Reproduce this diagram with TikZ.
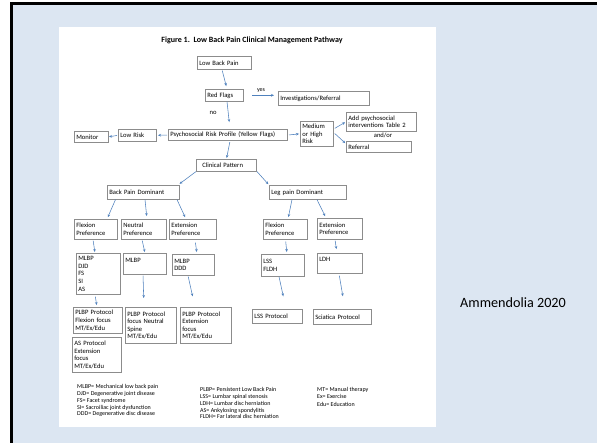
\documentclass[tikz,border=0pt]{standalone}
\usepackage{fontspec}
\setmainfont{Carlito}
\usetikzlibrary{arrows.meta}

\definecolor{slideblue}{HTML}{DCE6F2}
\definecolor{linkblue}{HTML}{4F81BD}
\definecolor{boxgray}{HTML}{8C8C8C}

\newcommand{\boxfont}{\fontsize{6.6}{7.6}\selectfont}
\newcommand{\keyfont}{\fontsize{6}{6.9}\selectfont}

\tikzset{
  box/.style={draw=boxgray, line width=0.6pt, fill=white, anchor=north west,
              align=left, inner sep=2pt, font=\boxfont},
  flow/.style={draw=linkblue, line width=0.55pt, -{Stealth[length=3pt,width=2.6pt]}},
  key/.style={anchor=north west, align=left, inner sep=0pt, font=\keyfont}
}

\begin{document}
\begin{tikzpicture}[x=1pt, y=-1pt]
\useasboundingbox (0,0) rectangle (597,443);
% slide and the pasted figure
\fill[slideblue] (13,5) rectangle (597,443);
\draw[line width=3pt] (11.5,443) -- (11.5,3.5) -- (597,3.5);
\fill[white] (59,27) rectangle (436,427);

\node[font=\fontsize{8}{9}\selectfont\bfseries] (title) at (252,40)
     {Figure 1.\ \ Low Back Pain Clinical Management Pathway};

% top of the pathway
\node[box, text width=50.4, minimum height=13] (lbp) at (197,56) {Low Back Pain};
\node[box, text width=34.4, minimum height=12] (rf) at (205,89) {Red Flags};
\node[box, text width=87.4, minimum height=14] (inv) at (278,91) {Investigations/Referral};
\node[box, text width=115.4, minimum height=11.5] (psy) at (168,129) {Psychosocial Risk Profile (Yellow Flags)};
\node[box, text width=34.4, minimum height=12] (low) at (118,129) {Low Risk};
\node[box, text width=30.4, minimum height=11] (mon) at (74,131) {Monitor};
\node[box, text width=29.4, minimum height=25] (med) at (300,121) {Medium\\or High\\Risk};
\node[box, text width=66.4, minimum height=19] (add) at (346,112) {Add psychosocial\\interventions Table 2};
\node[font=\boxfont] (andor) at (383,135) {and/or};
\node[box, text width=61.4, minimum height=11] (ref) at (346,141) {Referral};
\node[box, text width=56.4, minimum height=12] (cp) at (196,159) {\hspace{4pt}Clinical Pattern};

% back pain branch
\node[box, text width=68.4, minimum height=14] (bpd) at (107,185) {Back Pain Dominant};
\node[box, text width=39.4, minimum height=20] (flexb) at (74,219) {Flexion\\Preference};
\node[box, text width=41.4, minimum height=20] (neut) at (121,219) {Neutral\\Preference};
\node[box, text width=43.4, minimum height=20] (extb) at (169,219) {Extension\\Preference};
\node[box, text width=40.4, minimum height=41] (dxflex) at (76,253) {MLBP\\DJD\\FS\\SI\\AS};
\node[box, text width=39.4, minimum height=21] (dxneut) at (123,253) {MLBP\\~};
\node[box, text width=38.4, minimum height=21] (dxext) at (172,254) {MLBP\\DDD};
\node[box, text width=45.4, minimum height=26] (pflex) at (73,307) {PLBP Protocol\\Flexion focus\\MT/Ex/Edu};
\node[box, text width=47.4, minimum height=36] (pneut) at (125,307) {PLBP Protocol\\focus Neutral\\Spine\\MT/Ex/Edu};
\node[box, text width=47.4, minimum height=36] (pext) at (180,307) {PLBP Protocol\\Extension\\focus\\MT/Ex/Edu};
\node[box, text width=45.4, minimum height=35] (pas) at (72,337) {AS Protocol\\Extension\\focus\\MT/Ex/Edu};

% leg pain branch
\node[box, text width=73.4, minimum height=14] (lpd) at (269,185) {Leg pain Dominant};
\node[box, text width=40.4, minimum height=20] (flexl) at (263,219) {Flexion\\Preference};
\node[box, text width=41.4, minimum height=21] (extl) at (317,218) {Extension\\Preference};
\node[box, text width=39.4, minimum height=22] (dxleg) at (261,254) {LSS\\FLDH};
\node[box, text width=41.4, minimum height=20] (ldh) at (317,253) {LDH\\~};
\node[box, text width=46.4, minimum height=14] (plss) at (252,309) {LSS Protocol};
\node[box, text width=54.4, minimum height=15] (psci) at (313,309) {Sciatica Protocol};

% arrows
\draw[flow, shorten <=1pt, shorten >=3pt] ([xshift=-2.5pt]lbp.south) -- ([xshift=2.5pt]rf.north);
\draw[flow, shorten <=8pt, shorten >=4pt] (rf.east) -- (rf.east -| inv.west)
     node[midway, above=-0.5pt, font=\keyfont] {yes};
\draw[flow, shorten >=7pt] ([xshift=2.5pt]rf.south) -- ([xshift=2pt]psy.north)
     node[pos=0.4, left=8pt, font=\boxfont] {no};
\draw[flow, shorten <=1pt, shorten >=1pt] (psy.west) -- (low.east);
\draw[flow, shorten <=1pt] (low.west) -- (mon.east);
\draw[flow, shorten <=1pt, shorten >=1pt] (psy.east) -- (med.west);
\draw[flow, shorten <=1pt, shorten >=1pt] ([yshift=5pt]med.east) -- (add.west);
\draw[flow, shorten <=1pt, shorten >=1pt] ([yshift=1pt]med.east) -- ([yshift=3pt]ref.west);
\draw[flow, shorten <=1pt, shorten >=1pt] ([xshift=2pt]psy.south) -- (cp.north);
\draw[flow, shorten >=2pt] (cp.south west) -- ([xshift=-2pt]bpd.north east);
\draw[flow, shorten >=1pt] (cp.south east) -- (lpd.north west);

\draw[flow, shorten >=2pt] ([xshift=-28pt]bpd.south) -- ([xshift=11pt]flexb.north);
\draw[flow, shorten >=3pt] ([xshift=1.5pt]bpd.south) -- ([xshift=3pt]neut.north);
\draw[flow, shorten >=2pt] ([xshift=33.5pt]bpd.south) -- ([xshift=-7pt]extb.north);
\draw[flow, shorten <=1pt, shorten >=1pt] ([xshift=-3pt]flexb.south) -- ([xshift=-3.5pt]dxflex.north);
\draw[flow, shorten <=1pt, shorten >=1pt] ([xshift=-2pt]neut.south) -- (dxneut.north);
\draw[flow, shorten <=3pt, shorten >=2pt] ([xshift=2pt]extb.south) -- ([xshift=3.5pt]dxext.north);
\draw[flow, shorten <=2pt, shorten >=2pt] ([xshift=-3.5pt]dxflex.south) -- ([xshift=-1pt]pflex.north);
\draw[flow, shorten <=1pt, shorten >=9pt] ([xshift=-2pt]dxneut.south) -- ([xshift=-7pt]pneut.north);
\draw[flow, shorten <=1pt, shorten >=11pt] ([xshift=-5.5pt]dxext.south) -- ([xshift=-11pt]pext.north);

\draw[flow, shorten >=2pt] ([xshift=-16pt]lpd.south) -- ([xshift=2.5pt]flexl.north);
\draw[flow, shorten >=2pt] ([xshift=9pt]lpd.south) -- ([xshift=-14pt]extl.north);
\draw[flow, shorten <=2pt, shorten >=2pt] (flexl.south) -- ([xshift=4pt]dxleg.north);
\draw[flow, shorten <=1pt, shorten >=4pt] ([xshift=-5pt]extl.south) -- ([xshift=-3pt]ldh.north);
\draw[flow, shorten >=13pt] ([xshift=-4pt]dxleg.south) -- ([xshift=8.5pt]plss.north);
\draw[flow, shorten <=2pt, shorten >=13pt] ([xshift=-1pt]ldh.south) -- ([xshift=2.5pt]psci.north);

% abbreviations
\node[key] (key1) at (77,384) {MLBP= Mechanical low back pain\\DJD= Degenerative joint disease\\FS= Facet syndrome\\SI= Sacroiliac joint dysfunction\\DDD= Degenerative disc disease};
\node[key] (key2) at (200,387) {PLBP= Persistent Low Back Pain\\LSS= Lumbar spinal stenosis\\LDH= Lumbar disc herniation\\AS= Ankylosing spondylitis\\FLDH= Far lateral disc herniation};
\node[key] (key3) at (317,387) {MT= Manual therapy\\Ex= Exercise\\[1pt]Edu= Education};

\node[anchor=west, inner sep=0pt, font=\fontsize{14.2}{16}\selectfont] (cite) at (460,303) {Ammendolia 2020};
\end{tikzpicture}
\end{document}
